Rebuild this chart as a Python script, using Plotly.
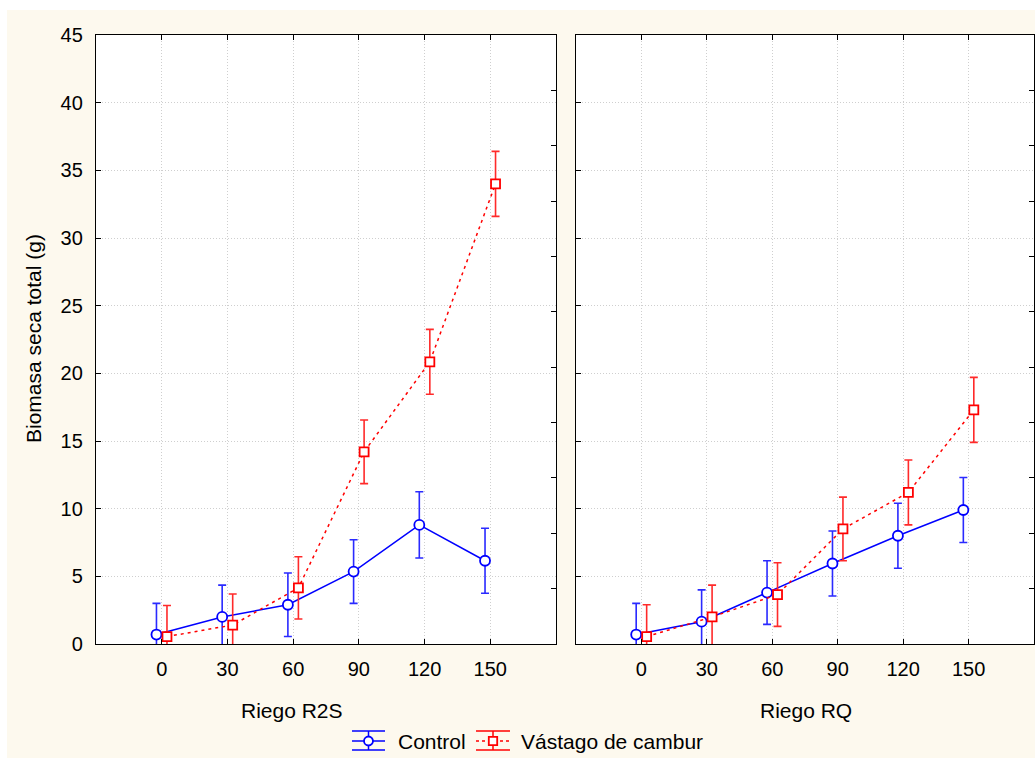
import plotly.graph_objects as go

W, H = 1035, 758

# ---------------- data ----------------
riego_labels = ["0", "30", "60", "90", "120", "150"]
riego_pos = [0, 1, 2, 3, 4, 5]

r2s_control = [0.7, 2.0, 2.9, 5.35, 8.8, 6.15]
r2s_control_err = [2.3, 2.35, 2.35, 2.35, 2.45, 2.4]
r2s_vastago = [0.55, 1.4, 4.15, 14.2, 20.85, 34.0]
r2s_vastago_err = [2.3, 2.3, 2.3, 2.35, 2.4, 2.4]

rq_control = [0.7, 1.65, 3.8, 5.95, 8.0, 9.9]
rq_control_err = [2.3, 2.35, 2.35, 2.4, 2.4, 2.4]
rq_vastago = [0.55, 2.0, 3.65, 8.5, 11.2, 17.3]
rq_vastago_err = [2.35, 2.35, 2.35, 2.35, 2.4, 2.4]

offset = 0.08

BLUE = "#0000FF"
BLUE_E = "#2a2aff"
RED = "#FF0000"
RED_E = "#ff2a2a"
CREAM = "#FDF9EE"
GRID = "#cfcfcf"
FONT = "Liberation Sans, Arial, sans-serif"


def px(x):
    return x / W


def py(y):
    return 1 - y / H


fig = go.Figure()


def add_series(xref, yref, xs, ys, errs, color, ecolor, dash, symbol, name):
    fig.add_trace(go.Scatter(
        x=[v + xs for v in riego_pos], y=ys,
        mode="lines+markers", name=name, showlegend=False,
        xaxis=xref, yaxis=yref,
        line=dict(color=color, width=1.5, dash=dash),
        marker=dict(symbol=symbol, size=10 if symbol == "circle" else 9,
                    color="white", line=dict(color=color, width=1.8)),
        error_y=dict(type="data", array=errs, color=ecolor,
                     thickness=1.6, width=4),
    ))


add_series("x", "y", -offset, r2s_control, r2s_control_err, BLUE, BLUE_E, "solid", "circle", "Control")
add_series("x", "y", offset, r2s_vastago, r2s_vastago_err, RED, RED_E, "3px,4px", "square", "Vástago de cambur")
add_series("x2", "y2", -offset, rq_control, rq_control_err, BLUE, BLUE_E, "solid", "circle", "Control")
add_series("x2", "y2", offset, rq_vastago, rq_vastago_err, RED, RED_E, "3px,4px", "square", "Vástago de cambur")

tickfont = dict(family=FONT, size=20, color="black")

xcommon = dict(range=[-1, 6], tickvals=riego_pos, ticktext=riego_labels,
               ticks="inside", ticklen=5, tickcolor="black", showline=True,
               linecolor="black", linewidth=1.3, mirror="ticks",
               showgrid=True, gridcolor=GRID, griddash="1px,2px", gridwidth=1,
               zeroline=False, tickfont=tickfont, fixedrange=True,
               automargin=False, ticklabelstandoff=7)

ycommon = dict(range=[0, 45], dtick=5, ticks="inside", ticklen=5,
               tickcolor="black", showline=True, linecolor="black",
               linewidth=1.3, showgrid=True, gridcolor=GRID,
               griddash="1px,2px", gridwidth=1, zeroline=False,
               tickfont=tickfont, fixedrange=True, automargin=False)

ysec = dict(range=[0, 11], tickvals=[1, 2, 3, 4, 5, 6, 7, 8, 9, 10],
            ticks="inside", ticklen=5, tickcolor="black", showline=True,
            linecolor="black", linewidth=1.3, showgrid=False,
            zeroline=False, showticklabels=False, side="right",
            fixedrange=True, automargin=False)

fig.update_layout(
    width=W, height=H,
    margin=dict(l=0, r=0, t=0, b=0, autoexpand=False),
    paper_bgcolor="white",
    plot_bgcolor="white",
    showlegend=False,
    font=dict(family=FONT, size=20, color="black"),
    xaxis=dict(domain=[px(96), px(556)], anchor="y", **xcommon),
    xaxis2=dict(domain=[px(576), px(1034)], anchor="y2", **xcommon),
    yaxis=dict(domain=[py(644), py(35)], anchor="x", ticklabelstandoff=8, **ycommon),
    yaxis2=dict(domain=[py(644), py(35)], anchor="x2", showticklabels=False, **ycommon),
    yaxis3=dict(overlaying="y", anchor="x", **ysec),
    yaxis4=dict(overlaying="y2", anchor="x2", **ysec),
)

# dummy traces so the secondary axes render
fig.add_trace(go.Scatter(x=[None], y=[None], xaxis="x", yaxis="y3", showlegend=False, hoverinfo="skip"))
fig.add_trace(go.Scatter(x=[None], y=[None], xaxis="x2", yaxis="y4", showlegend=False, hoverinfo="skip"))

shapes = []
# cream background
shapes.append(dict(type="rect", xref="paper", yref="paper", layer="below",
                   x0=px(7), x1=1, y0=0, y1=py(10), fillcolor=CREAM, line=dict(width=0)))
# white panels behind the plot areas
for x0, x1 in [(96, 556), (576, 1034)]:
    shapes.append(dict(type="rect", xref="paper", yref="paper", layer="below",
                       x0=px(x0), x1=px(x1), y0=py(644), y1=py(35),
                       fillcolor="white", line=dict(width=0)))


# custom legend
def legend_symbol(xa, xb, color, dash, kind):
    xc = (xa + xb) / 2
    for yy in (731, 750):
        shapes.append(dict(type="line", xref="paper", yref="paper",
                           x0=px(xa), x1=px(xb), y0=py(yy), y1=py(yy),
                           line=dict(color=color, width=1.5)))
    shapes.append(dict(type="line", xref="paper", yref="paper",
                       x0=px(xc), x1=px(xc), y0=py(731), y1=py(750),
                       line=dict(color=color, width=1.5)))
    shapes.append(dict(type="line", xref="paper", yref="paper",
                       x0=px(xa), x1=px(xb), y0=py(741), y1=py(741),
                       line=dict(color=color, width=1.5, dash=dash)))
    if kind == "circle":
        shapes.append(dict(type="circle", xref="paper", yref="paper",
                           x0=px(xc - 4.5), x1=px(xc + 4.5), y0=py(745.5), y1=py(736.5),
                           fillcolor="white", line=dict(color=color, width=1.8)))
    else:
        shapes.append(dict(type="rect", xref="paper", yref="paper",
                           x0=px(xc - 4.2), x1=px(xc + 4.2), y0=py(745.2), y1=py(736.8),
                           fillcolor="white", line=dict(color=color, width=1.8)))


legend_symbol(352, 385, BLUE, "solid", "circle")
legend_symbol(476, 510, RED, "3px,3px", "square")

annotations = [
    dict(text="Control", x=px(396), y=py(741), xref="paper", yref="paper",
         xanchor="left", yanchor="middle", showarrow=False,
         font=dict(family=FONT, size=21, color="black")),
    dict(text="Vástago de cambur", x=px(519), y=py(741), xref="paper", yref="paper",
         xanchor="left", yanchor="middle", showarrow=False,
         font=dict(family=FONT, size=21, color="black")),
    dict(text="Riego R2S", x=px(292), y=py(710), xref="paper", yref="paper",
         xanchor="center", yanchor="middle", showarrow=False,
         font=dict(family=FONT, size=21, color="black")),
    dict(text="Riego RQ", x=px(806), y=py(710), xref="paper", yref="paper",
         xanchor="center", yanchor="middle", showarrow=False,
         font=dict(family=FONT, size=21, color="black")),
    dict(text="Biomasa seca total (g)", x=px(34), y=py(339), xref="paper", yref="paper",
         xanchor="center", yanchor="middle", showarrow=False, textangle=-90,
         font=dict(family=FONT, size=21, color="black")),
]

fig.update_layout(shapes=shapes, annotations=annotations)

fig.write_html("out.html")
